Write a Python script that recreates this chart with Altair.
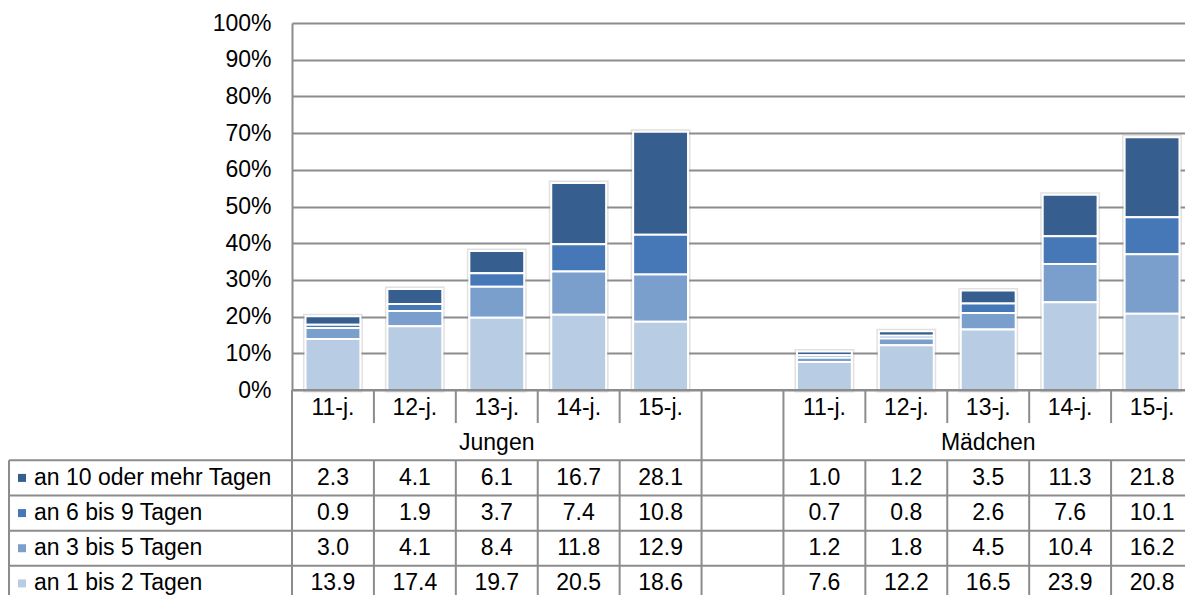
import altair as alt
import pandas as pd

# ---------------- data ----------------
groups = ["Jungen", "Mädchen"]
ages = ["11-j.", "12-j.", "13-j.", "14-j.", "15-j."]
series = ["an 10 oder mehr Tagen", "an 6 bis 9 Tagen", "an 3 bis 5 Tagen", "an 1 bis 2 Tagen"]
colors = ["#365F8F", "#4677B6", "#7A9FCD", "#B8CCE4"]

jungen_10 = [2.3, 4.1, 6.1, 16.7, 28.1]
jungen_6_9 = [0.9, 1.9, 3.7, 7.4, 10.8]
jungen_3_5 = [3.0, 4.1, 8.4, 11.8, 12.9]
jungen_1_2 = [13.9, 17.4, 19.7, 20.5, 18.6]

maedchen_10 = [1.0, 1.2, 3.5, 11.3, 21.8]
maedchen_6_9 = [0.7, 0.8, 2.6, 7.6, 10.1]
maedchen_3_5 = [1.2, 1.8, 4.5, 10.4, 16.2]
maedchen_1_2 = [7.6, 12.2, 16.5, 23.9, 20.8]

y_ticks = [0, 10, 20, 30, 40, 50, 60, 70, 80, 90, 100]

values = {
    "Jungen": [jungen_10, jungen_6_9, jungen_3_5, jungen_1_2],
    "Mädchen": [maedchen_10, maedchen_6_9, maedchen_3_5, maedchen_1_2],
}

# ---------------- layout constants ----------------
FONT = "Liberation Sans"
FS = 23
GRID = "#8c8c8c"
PLOT_W = 901
PLOT_H = 367
TABLE_H = 211
N_SLOTS = 11
SLOT_PX = PLOT_W / N_SLOTS
LEGEND_COL_PX = 283
LEFT = -LEGEND_COL_PX / SLOT_PX  # left border of legend column, in slot units

# slot index for each group/age; one empty slot between the groups
slot_index = {}
for gi, g in enumerate(groups):
    for ai, a in enumerate(ages):
        slot_index[(g, a)] = gi * 6 + ai
slot_keys = [f"s{i:02d}" for i in range(N_SLOTS)]

# ---------------- bar data ----------------
bar_rows = []
total_rows = []
for g in groups:
    for ai, a in enumerate(ages):
        total_rows.append({"slot": slot_keys[slot_index[(g, a)]],
                           "total": sum(values[g][si][ai] for si in range(len(series)))})
    for si, s in enumerate(series):
        for ai, a in enumerate(ages):
            bar_rows.append({
                "slot": slot_keys[slot_index[(g, a)]],
                "series": s,
                "value": values[g][si][ai],
                "order": len(series) - si,
            })
bar_df = pd.DataFrame(bar_rows)
total_df = pd.DataFrame(total_rows)

color_scale = alt.Scale(domain=series, range=colors)
x_band = alt.Scale(domain=slot_keys, paddingInner=0.33, paddingOuter=0.165)
y_pct = alt.Scale(domain=[0, 100], nice=False)

y_axis = alt.Axis(values=y_ticks, labelExpr="datum.value + '%'", ticks=False,
                  labelPadding=21, labelFontSize=FS, labelFont=FONT, labelColor="black",
                  domainColor=GRID, domainWidth=2, gridColor=GRID, gridWidth=1.8,
                  title=None)

shadow = alt.Chart(total_df).mark_bar(fillOpacity=0, stroke="#9a9a9a", strokeWidth=5,
                                      strokeOpacity=0.3).encode(
    x=alt.X("slot:N", scale=x_band, axis=None),
    y=alt.Y("total:Q", scale=y_pct, axis=y_axis),
)

bars = alt.Chart(bar_df).mark_bar(stroke="white", strokeWidth=2).encode(
    x=alt.X("slot:N", scale=x_band, axis=None),
    y=alt.Y("value:Q", stack="zero", scale=y_pct, axis=y_axis),
    color=alt.Color("series:N", scale=color_scale, legend=None),
    order=alt.Order("order:Q"),
)

bar_chart = alt.layer(shadow, bars).properties(width=PLOT_W, height=PLOT_H)

# ---------------- table data ----------------
# rows (in row units, top = 0): 0 category, 1 group, 2..5 series
text_rows = []
for g in groups:
    for a in ages:
        text_rows.append({"x": slot_index[(g, a)] + 0.5, "y": 0.5, "label": a})
for gi, g in enumerate(groups):
    text_rows.append({"x": gi * 6 + 2.5, "y": 1.5, "label": g})
for g in groups:
    for si, s in enumerate(series):
        for ai, a in enumerate(ages):
            text_rows.append({"x": slot_index[(g, a)] + 0.5, "y": si + 2.5,
                              "label": f"{values[g][si][ai]:.1f}"})
text_df = pd.DataFrame(text_rows)

rule_rows = []
# horizontal lines
rule_rows.append({"x": 0, "x2": N_SLOTS, "y": 0, "y2": 0})
for r in [2, 3, 4, 5]:
    rule_rows.append({"x": LEFT, "x2": N_SLOTS, "y": r, "y2": r})
# vertical lines
for b in [0, 5, 6]:
    rule_rows.append({"x": b, "x2": b, "y": 0, "y2": 6})
for b in [1, 2, 3, 4, 7, 8, 9, 10]:
    rule_rows.append({"x": b, "x2": b, "y": 0, "y2": 0.94})
    rule_rows.append({"x": b, "x2": b, "y": 2, "y2": 6})
rule_rows.append({"x": LEFT, "x2": LEFT, "y": 2, "y2": 6})
rule_df = pd.DataFrame(rule_rows)

legend_df = pd.DataFrame({"series": series, "y": [2.5, 3.5, 4.5, 5.5]})

xs = alt.Scale(domain=[0, N_SLOTS], nice=False, zero=False)
ys = alt.Scale(domain=[0, 6], nice=False, zero=False, reverse=True)

table_rules = alt.Chart(rule_df).mark_rule(color=GRID, strokeWidth=2).encode(
    x=alt.X("x:Q", scale=xs, axis=None),
    x2="x2:Q",
    y=alt.Y("y:Q", scale=ys, axis=None),
    y2="y2:Q",
)

table_text = alt.Chart(text_df).mark_text(font=FONT, fontSize=FS, color="black",
                                          align="center", baseline="middle").encode(
    x=alt.X("x:Q", scale=xs, axis=None),
    y=alt.Y("y:Q", scale=ys, axis=None),
    text="label:N",
)

legend_sq = alt.Chart(legend_df).mark_square(size=64, opacity=1).encode(
    x=alt.value(-270),
    y=alt.Y("y:Q", scale=ys, axis=None),
    color=alt.Color("series:N", scale=color_scale, legend=None),
)

legend_txt = alt.Chart(legend_df).mark_text(font=FONT, fontSize=FS, color="black",
                                            align="left", baseline="middle").encode(
    x=alt.value(-258),
    y=alt.Y("y:Q", scale=ys, axis=None),
    text="series:N",
)

table = alt.layer(table_rules, table_text, legend_sq, legend_txt).properties(
    width=PLOT_W, height=TABLE_H)

chart = alt.vconcat(bar_chart, table, spacing=0, bounds="flush").properties(
    padding={"left": 0, "top": 4, "right": -9, "bottom": 0}
).configure_view(stroke=None)

chart.save("out.html", embed_options={"renderer": "svg", "actions": False})
